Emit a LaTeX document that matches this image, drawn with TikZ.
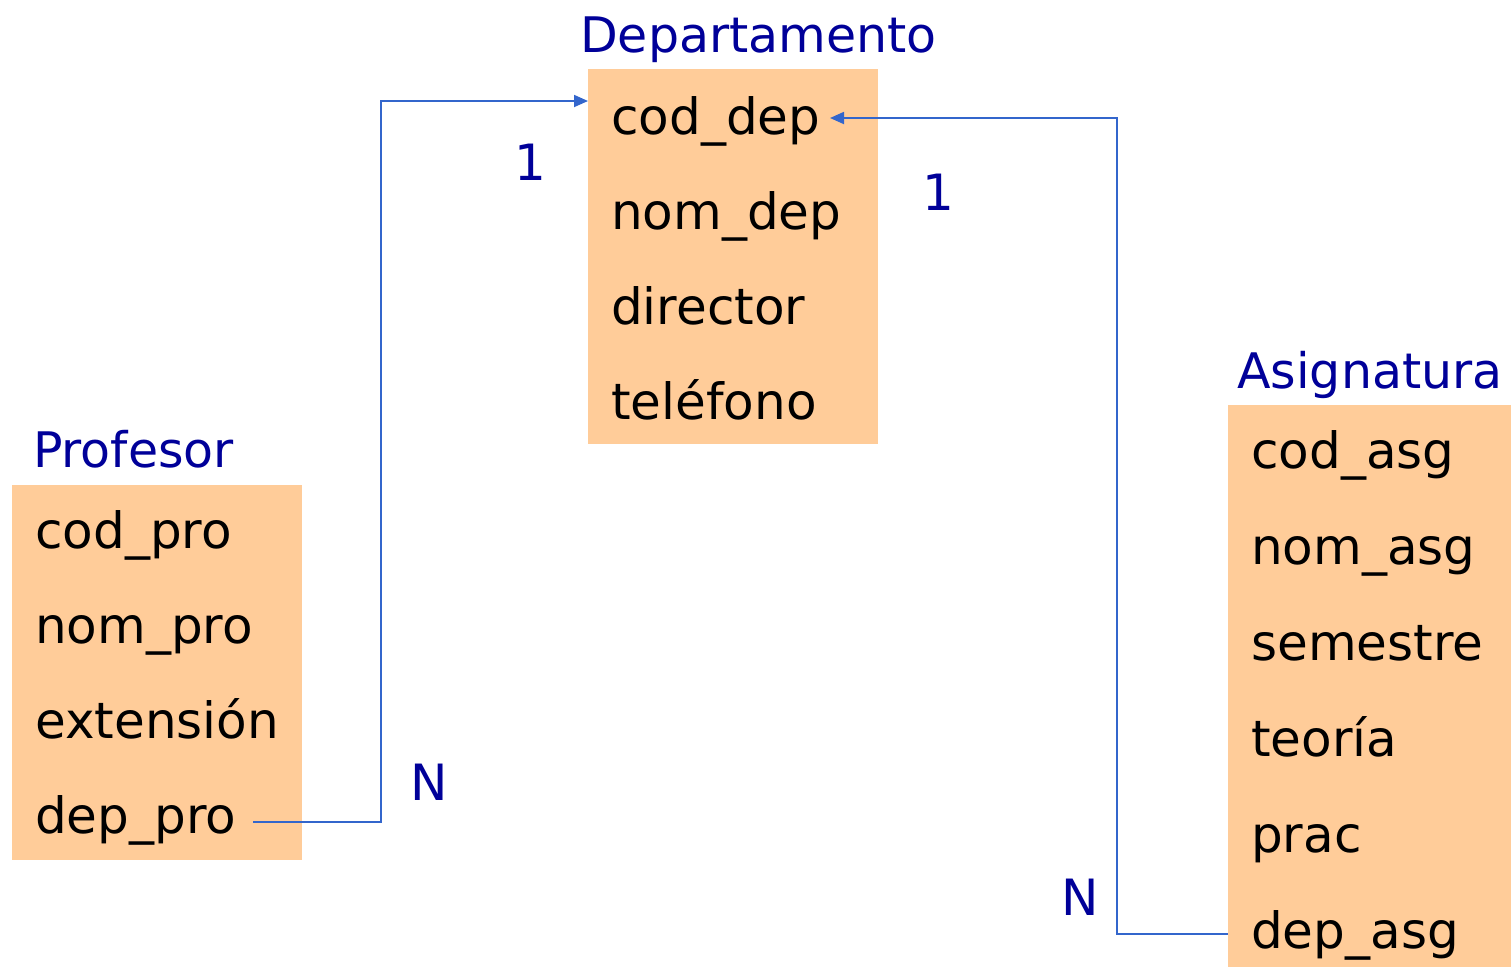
\documentclass[tikz,border=0pt]{standalone}
\usepackage{fontspec}
\setmainfont{DejaVu Sans}
\usetikzlibrary{arrows.meta}
\definecolor{peach}{HTML}{FFCC99}
\definecolor{navy}{HTML}{000099}
\definecolor{linkblue}{HTML}{3366CC}
\tikzset{
  tabla/.style={fill=peach, draw=none, anchor=north west, inner sep=0pt},
  campo/.style={anchor=base west, inner sep=0pt, font=\fontsize{50}{50}\selectfont},
  titulo/.style={anchor=base west, inner sep=0pt, text=navy, font=\fontsize{49}{49}\selectfont},
  card/.style={text=navy, inner sep=0pt, font=\fontsize{50}{50}\selectfont},
  link/.style={draw=linkblue, line width=1.8pt, -{Triangle[length=14pt,width=12pt]}}
}
\begin{document}
\begin{tikzpicture}[x=1pt,y=-1pt]
\useasboundingbox (0,0) rectangle (1511,967);

% Departamento
\node[tabla, minimum width=290, minimum height=375] (dep) at (588,69) {};
\node[titulo] (dep-t) at (580,52) {Departamento};
\node[campo] (coddep) at (611,134) {cod\_dep};
\node[campo] (nomdep) at (611,229) {nom\_dep};
\node[campo] (director) at (611,324) {director};
\node[campo] (telefono) at (611,419) {teléfono};

% Profesor
\node[tabla, minimum width=290, minimum height=375] (pro) at (12,485) {};
\node[titulo] (pro-t) at (33,467) {Profesor};
\node[campo] (codpro) at (35,548) {cod\_pro};
\node[campo] (nompro) at (35,643) {nom\_pro};
\node[campo] (extension) at (35,738) {extensión};
\node[campo] (deppro) at (35,833) {dep\_pro};

% Asignatura
\node[tabla, minimum width=283, minimum height=562] (asg) at (1228,405) {};
\node[titulo] (asg-t) at (1237,388) {Asignatura};
\node[campo] (codasg) at (1251,468) {cod\_asg};
\node[campo] (nomasg) at (1251,564) {nom\_asg};
\node[campo] (semestre) at (1251,660) {semestre};
\node[campo] (teoria) at (1251,756) {teoría};
\node[campo] (prac) at (1251,852) {prac};
\node[campo] (depasg) at (1251,948) {dep\_asg};

% conectores
\coordinate (pro-out) at (253,822);
\coordinate (dep-in) at (588,101);
\draw[link] (pro-out) -- (381,822) -- (381,101) -- (dep-in);
\coordinate (asg-out) at (1228,934);
\coordinate (dep-in2) at (830,118);
\draw[link] (asg-out) -- (1117,934) -- (1117,118) -- (dep-in2);

% cardinalidades
\node[card] (c1) at (530,162) {1};
\node[card] (cN) at (429,782) {N};
\node[card] (c2) at (938,192) {1};
\node[card] (cN2) at (1080,897) {N};
\end{tikzpicture}
\end{document}
